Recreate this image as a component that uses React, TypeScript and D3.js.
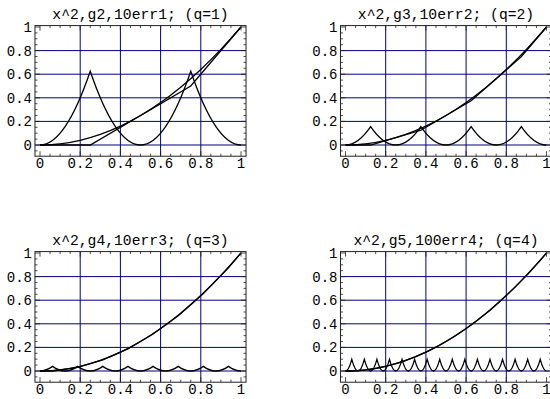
import * as d3 from 'd3';

// chart values
const titles = [
    'x^2,g2,10err1; (q=1)',
    'x^2,g3,10err2; (q=2)',
    'x^2,g4,10err3; (q=3)',
    'x^2,g5,100err4; (q=4)',
];

const xTicks = [0, 0.2, 0.4, 0.6, 0.8, 1];
const yTicks = [0, 0.2, 0.4, 0.6, 0.8, 1];
const xGrid = [0.2, 0.4, 0.6, 0.8];
const yGrid = [0, 0.2, 0.4, 0.6, 0.8];

// the x^2 curve
const sqX = [0, 0.1, 0.2, 0.3, 0.4, 0.5, 0.6, 0.7, 0.8, 0.9, 1];
const sqY = [0, 0.01, 0.04, 0.09, 0.16, 0.25, 0.36, 0.49, 0.64, 0.81, 1];

// piecewise linear g
const g2X = [0, 0.25, 0.75, 1];
const g2Y = [0, 0, 0.5, 1];
const g3X = [0, 0.125, 0.375, 0.625, 0.875, 1];
const g3Y = [0, 0, 0.125, 0.375, 0.75, 1];
const g4X = [0, 0.0625, 0.1875, 0.3125, 0.4375, 0.5625, 0.6875, 0.8125, 0.9375, 1];
const g4Y = [0, 0, 0.031, 0.094, 0.188, 0.313, 0.469, 0.656, 0.875, 1];
const g5X = [
    0, 0.031, 0.094, 0.156, 0.219, 0.281, 0.344, 0.406, 0.469, 0.531, 0.594, 0.656, 0.719,
    0.781, 0.844, 0.906, 0.969, 1,
];
const g5Y = [
    0, 0, 0.0078, 0.0234, 0.0469, 0.0781, 0.1172, 0.1641, 0.2188, 0.2813, 0.3516, 0.4297,
    0.5156, 0.6094, 0.7109, 0.8203, 0.9375, 1,
];

// scaled error: zeros and cusps, alternating
const err1X = [0, 0.25, 0.5, 0.75, 1];
const err1Y = [0, 0.625, 0, 0.625, 0];
const err2X = [0, 0.125, 0.25, 0.375, 0.5, 0.625, 0.75, 0.875, 1];
const err2Y = [0, 0.156, 0, 0.156, 0, 0.156, 0, 0.156, 0];
const err3X = [
    0, 0.0625, 0.125, 0.1875, 0.25, 0.3125, 0.375, 0.4375, 0.5, 0.5625, 0.625, 0.6875, 0.75,
    0.8125, 0.875, 0.9375, 1,
];
const err3Y = [0, 0.039, 0, 0.039, 0, 0.039, 0, 0.039, 0, 0.039, 0, 0.039, 0, 0.039, 0, 0.039, 0];
const err4X = [
    0, 0.03125, 0.0625, 0.09375, 0.125, 0.15625, 0.1875, 0.21875, 0.25, 0.28125, 0.3125,
    0.34375, 0.375, 0.40625, 0.4375, 0.46875, 0.5, 0.53125, 0.5625, 0.59375, 0.625, 0.65625,
    0.6875, 0.71875, 0.75, 0.78125, 0.8125, 0.84375, 0.875, 0.90625, 0.9375, 0.96875, 1,
];
const err4Y = [
    0, 0.098, 0, 0.098, 0, 0.098, 0, 0.098, 0, 0.098, 0, 0.098, 0, 0.098, 0, 0.098, 0, 0.098,
    0, 0.098, 0, 0.098, 0, 0.098, 0, 0.098, 0, 0.098, 0, 0.098, 0, 0.098, 0,
];

const gSeries = [
    [g2X, g2Y],
    [g3X, g3Y],
    [g4X, g4Y],
    [g5X, g5Y],
];
const errSeries = [
    [err1X, err1Y],
    [err2X, err2Y],
    [err3X, err3Y],
    [err4X, err4Y],
];

// where each panel's (0,0) sits on the page
const origins = [
    [40, 145],
    [345.5, 145],
    [40, 371],
    [345.5, 371],
];

const FONT = '"Liberation Mono", "Courier New", monospace';
const GRID = '#000080';

// arcs between a zero and a cusp: parabola tangent to the zero line
function curveArc(context: any) {
    let px = 0;
    let py = 0;
    let started = false;
    return {
        areaStart() {},
        areaEnd() {},
        lineStart() {
            started = false;
        },
        lineEnd() {},
        point(x: number, y: number) {
            if (!started) {
                context.moveTo(x, y);
                started = true;
            } else {
                context.quadraticCurveTo((px + x) / 2, Math.max(py, y), x, y);
            }
            px = x;
            py = y;
        },
    };
}

function zip(xs: number[], ys: number[]): [number, number][] {
    return xs.map((x, i) => [x, ys[i]]);
}

function Panel({ index }: { index: number }) {
    const [ox, oy] = origins[index];
    const x = d3.scaleLinear().domain([0, 1]).range([ox, ox + 201]);
    const y = d3.scaleLinear().domain([0, 1]).range([oy, oy - 118]);

    const left = x(-0.025);
    const right = x(1.025);
    const top = y(1.012);
    const bottom = y(-0.095);

    const smooth = d3
        .line<[number, number]>()
        .x((d) => x(d[0]))
        .y((d) => y(d[1]))
        .curve(d3.curveMonotoneX);
    const straight = d3
        .line<[number, number]>()
        .x((d) => x(d[0]))
        .y((d) => y(d[1]));
    const arcs = d3
        .line<[number, number]>()
        .x((d) => x(d[0]))
        .y((d) => y(d[1]))
        .curve(curveArc as any);

    const xMinor = d3.range(0, 1.0001, 0.05);
    const yMinor = d3.range(-0.05, 1.0001, 0.05);
    const isMajor = (v: number) => Math.abs(v * 5 - Math.round(v * 5)) < 1e-6;

    const [gx, gy] = gSeries[index];
    const [ex, ey] = errSeries[index];

    return (
        <g>
            <g stroke={GRID} strokeWidth={1}>
                {xGrid.map((v) => (
                    <line key={'gx' + v} x1={x(v)} x2={x(v)} y1={top} y2={bottom} />
                ))}
                {yGrid.map((v) => (
                    <line key={'gy' + v} x1={left} x2={right} y1={y(v)} y2={y(v)} />
                ))}
            </g>
            <g fill="none" stroke="#000" strokeWidth={1.3} strokeLinejoin="miter">
                <path d={smooth(zip(sqX, sqY)) ?? ''} />
                <path d={straight(zip(gx, gy)) ?? ''} />
                <path d={arcs(zip(ex, ey)) ?? ''} />
            </g>
            <rect
                x={left}
                y={top}
                width={right - left}
                height={bottom - top}
                fill="none"
                stroke="#222"
                strokeWidth={1}
            />
            <g stroke="#222" strokeWidth={0.8}>
                {xMinor.map((v) => {
                    const len = isMajor(v) ? 5 : 2.5;
                    return (
                        <g key={'tx' + v}>
                            <line x1={x(v)} x2={x(v)} y1={bottom} y2={bottom - len} />
                            <line x1={x(v)} x2={x(v)} y1={top} y2={top + len} />
                        </g>
                    );
                })}
                {yMinor.map((v) => {
                    const len = isMajor(v) ? 5 : 2.5;
                    return (
                        <g key={'ty' + v}>
                            <line x1={left} x2={left + len} y1={y(v)} y2={y(v)} />
                            <line x1={right} x2={right - len} y1={y(v)} y2={y(v)} />
                        </g>
                    );
                })}
            </g>
            <g fontFamily={FONT} fontSize={14} fill="#000">
                {xTicks.map((v) => (
                    <text key={'lx' + v} x={x(v)} y={bottom + 12} textAnchor="middle">
                        {String(v)}
                    </text>
                ))}
                {yTicks.map((v) => (
                    <text
                        key={'ly' + v}
                        x={left - 3}
                        y={y(v)}
                        dy="0.35em"
                        textAnchor="end"
                    >
                        {String(v)}
                    </text>
                ))}
                <text x={x(0.5)} y={top - 7} textAnchor="middle" fontSize={14.7}>
                    {titles[index]}
                </text>
            </g>
        </g>
    );
}

export default function App() {
    return (
        <svg
            width={550}
            height={399}
            viewBox="0 0 550 399"
            style={{ position: 'absolute', left: 0, top: 0, background: '#fff' }}
        >
            <rect width={550} height={399} fill="#fff" />
            {titles.map((_, i) => (
                <Panel key={i} index={i} />
            ))}
        </svg>
    );
}
